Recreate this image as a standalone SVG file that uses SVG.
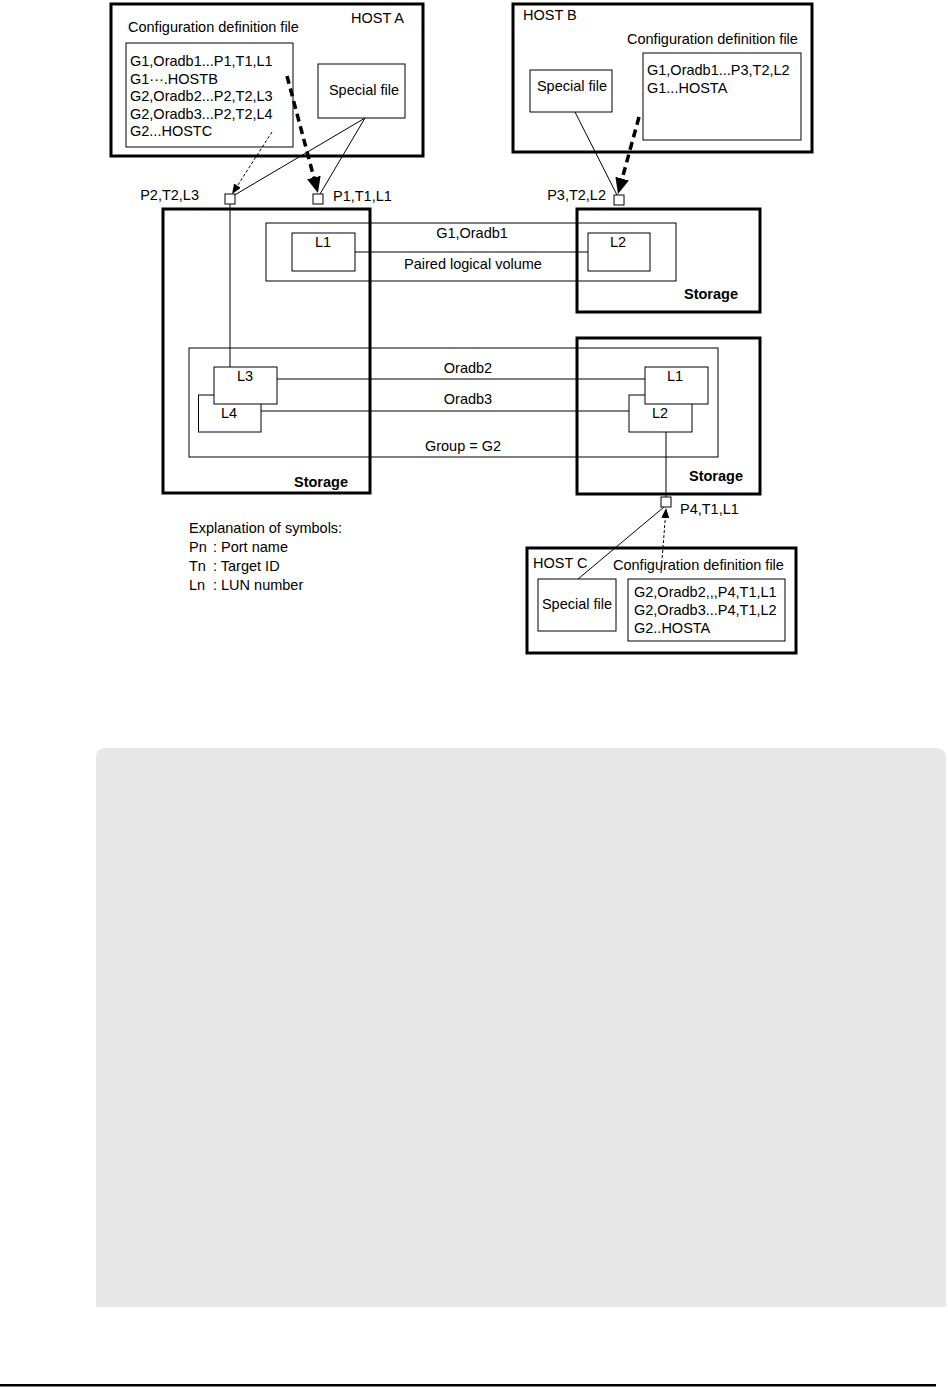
<svg xmlns="http://www.w3.org/2000/svg" width="948" height="1387" viewBox="0 0 948 1387">
<style>
text{font-family:"Liberation Sans",Arial,sans-serif;font-size:14.5px;fill:#000}
.b{font-weight:bold}
.m{text-anchor:middle}
.e{text-anchor:end}
.thick{fill:none;stroke:#000;stroke-width:3}
.thin{fill:#fff;stroke:#000;stroke-width:1}
.open{fill:none;stroke:#000;stroke-width:1}
.ln{fill:none;stroke:#000;stroke-width:1}
.dthick{fill:none;stroke:#000;stroke-width:3.5;stroke-dasharray:8 5}
.dthin{fill:none;stroke:#000;stroke-width:1;stroke-dasharray:3 2}
.port{fill:#fff;stroke:#000;stroke-width:1}
</style>
<defs>
<marker id="big" viewBox="0 0 16 14" refX="6" refY="7" markerWidth="16" markerHeight="14" markerUnits="userSpaceOnUse" orient="auto"><path d="M0,0 L16,7 L0,14 z" fill="#000"/></marker>
<marker id="small" viewBox="0 0 10 8" refX="4" refY="4" markerWidth="10" markerHeight="8" markerUnits="userSpaceOnUse" orient="auto"><path d="M0,0 L10,4 L0,8 z" fill="#000"/></marker>
</defs>
<rect width="948" height="1387" fill="#fff"/>

<g id="panel">
<path d="M96,1307 V758 Q96,748 106,748 H936 Q946,748 946,758 V1307 z" fill="#e8e8e8"/>
<rect x="0" y="1384" width="936" height="2.5" fill="#000"/>
</g>

<g id="storageA">
<rect class="thick" x="163" y="209" width="207" height="284"/>
<text class="b m" x="321" y="487">Storage</text>
</g>
<g id="storageB">
<rect class="thick" x="577" y="209" width="183" height="103"/>
<text class="b m" x="711" y="299">Storage</text>
</g>
<g id="storageC">
<rect class="thick" x="577" y="338" width="183" height="156"/>
<text class="b m" x="716" y="481">Storage</text>
</g>

<g id="groupG1">
<rect class="open" x="266" y="223" width="410" height="58"/>
<text class="m" x="472" y="238">G1,Oradb1</text>
<text class="m" x="473" y="269">Paired logical volume</text>
</g>
<g id="groupG2">
<rect class="open" x="189" y="348" width="529" height="109"/>
<text class="m" x="468" y="373">Oradb2</text>
<text class="m" x="468" y="404">Oradb3</text>
<text class="m" x="463" y="451">Group = G2</text>
</g>

<g id="connectors">
<line class="ln" x1="355" y1="252" x2="588" y2="252"/>
<line class="ln" x1="277" y1="379" x2="645" y2="379"/>
<line class="ln" x1="261" y1="411" x2="629" y2="411"/>
<line class="ln" x1="230" y1="204" x2="230" y2="367"/>
<line class="ln" x1="666" y1="432" x2="666" y2="497"/>
<line class="ln" x1="365" y1="118" x2="233" y2="196"/>
<line class="ln" x1="365" y1="118" x2="320" y2="194"/>
<line class="ln" x1="575" y1="112" x2="617" y2="195"/>
<line class="ln" x1="578" y1="579" x2="664" y2="507"/>
<line class="dthick" x1="287" y1="76" x2="315.4" y2="183.3" marker-end="url(#big)"/>
<line class="dthick" x1="639" y1="117" x2="620.6" y2="184.4" marker-end="url(#big)"/>
<line class="dthin" x1="272" y1="132" x2="235.3" y2="189" marker-end="url(#small)"/>
<line class="dthin" x1="661" y1="573" x2="665.6" y2="514" marker-end="url(#small)"/>
</g>

<g id="volA_L1">
<rect class="thin" x="292" y="233" width="63" height="38"/>
<text class="m" x="323" y="247">L1</text>
</g>
<g id="volB_L2">
<rect class="thin" x="588" y="233" width="62" height="38"/>
<text class="m" x="618" y="247">L2</text>
</g>
<g id="volA_L4">
<rect class="thin" x="198.5" y="395" width="62.5" height="37"/>
<text class="m" x="229" y="418">L4</text>
</g>
<g id="volA_L3">
<rect class="thin" x="214" y="367" width="63" height="37"/>
<text class="m" x="245" y="381">L3</text>
</g>
<g id="volC_L2">
<rect class="thin" x="629" y="395" width="63" height="37"/>
<text class="m" x="660" y="418">L2</text>
</g>
<g id="volC_L1">
<rect class="thin" x="645" y="367" width="63" height="37"/>
<text class="m" x="675" y="381">L1</text>
</g>

<g id="hostA">
<rect class="thick" x="111" y="4" width="312" height="152"/>
<text x="351" y="23">HOST A</text>
<text x="128" y="32">Configuration definition file</text>
<rect class="open" x="126" y="43" width="167" height="104"/>
<text x="130" y="66">G1,Oradb1...P1,T1,L1</text>
<text x="130" y="84">G1···.HOSTB</text>
<text x="130" y="101">G2,Oradb2...P2,T2,L3</text>
<text x="130" y="119">G2,Oradb3...P2,T2,L4</text>
<text x="130" y="136">G2...HOSTC</text>
<rect class="thin" x="318" y="64" width="87" height="54"/>
<text class="m" x="364" y="95">Special file</text>
</g>

<g id="hostB">
<rect class="thick" x="513" y="4" width="299" height="148"/>
<text x="523" y="20">HOST B</text>
<text x="627" y="44">Configuration definition file</text>
<rect class="thin" x="530" y="70" width="82" height="42"/>
<text class="m" x="572" y="91">Special file</text>
<rect class="open" x="643" y="53" width="158" height="87"/>
<text x="647" y="75">G1,Oradb1...P3,T2,L2</text>
<text x="647" y="93">G1...HOSTA</text>
</g>

<g id="hostC">
<rect class="thick" x="527" y="548" width="269" height="105"/>
<text x="533" y="568">HOST C</text>
<text x="613" y="570">Configuration definition file</text>
<rect class="thin" x="538" y="579" width="78" height="52"/>
<text class="m" x="577" y="609">Special file</text>
<rect class="open" x="628" y="579" width="157" height="62"/>
<text x="634" y="597">G2,Oradb2,,,P4,T1,L1</text>
<text x="634" y="615">G2,Oradb3...P4,T1,L2</text>
<text x="634" y="633">G2..HOSTA</text>
</g>

<g id="ports">
<rect class="port" x="225" y="194" width="10" height="10"/>
<text class="e" x="199" y="200">P2,T2,L3</text>
<rect class="port" x="313" y="194" width="10" height="10"/>
<text x="333" y="201">P1,T1,L1</text>
<rect class="port" x="614" y="195" width="10" height="10"/>
<text class="e" x="606" y="200">P3,T2,L2</text>
<rect class="port" x="661" y="497" width="10" height="10"/>
<text x="680" y="514">P4,T1,L1</text>
</g>

<g id="legend">
<text x="189" y="533">Explanation of symbols:</text>
<text x="189" y="552">Pn</text><text x="213" y="552">: Port name</text>
<text x="189" y="571">Tn</text><text x="213" y="571">: Target ID</text>
<text x="189" y="590">Ln</text><text x="213" y="590">: LUN number</text>
</g>
</svg>
